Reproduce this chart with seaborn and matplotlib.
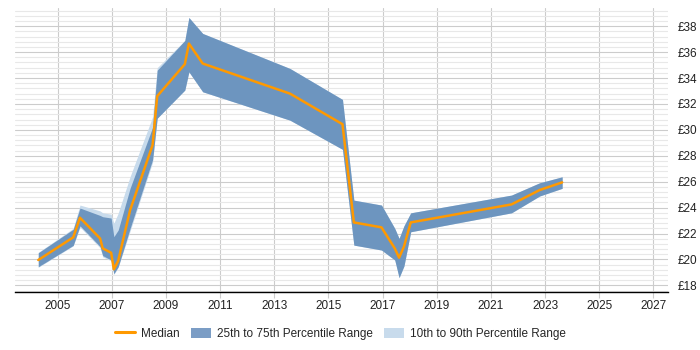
import matplotlib
matplotlib.use("Agg")
import matplotlib.pyplot as plt
from matplotlib.ticker import MultipleLocator, FuncFormatter
from matplotlib.patches import Patch
from matplotlib.lines import Line2D
import seaborn as sns
import pandas as pd

years = [2004.29, 2005.58, 2005.83, 2006.57, 2006.67, 2006.98, 2007.08, 2007.24,
         2007.68, 2008.51, 2008.68, 2009.70, 2009.85, 2010.36, 2013.58, 2015.52,
         2015.94, 2016.96, 2017.45, 2017.61, 2017.79, 2018.04, 2021.76, 2022.80, 2023.63]
median = [19.96, 21.71, 23.22, 21.63, 20.86, 20.52, 19.24, 19.90,
          23.81, 28.83, 32.60, 35.07, 36.66, 35.12, 32.80, 30.44,
          22.86, 22.48, 20.86, 20.14, 21.00, 22.86, 24.25, 25.36, 25.95]
p25 = [19.44, 21.09, 22.60, 21.00, 20.30, 19.96, 18.90, 19.44,
       22.40, 27.70, 30.90, 33.07, 34.48, 32.94, 30.75, 28.50,
       21.11, 20.73, 19.96, 18.60, 19.50, 22.14, 23.60, 24.90, 25.49]
p75 = [20.52, 22.33, 23.97, 23.40, 23.30, 23.20, 21.76, 22.27,
       25.50, 30.20, 34.60, 36.90, 38.67, 37.44, 34.74, 32.35,
       24.58, 24.20, 22.40, 21.63, 22.60, 23.60, 24.97, 25.92, 26.38]
p10 = [19.40, 21.05, 22.50, 20.90, 20.20, 19.90, 18.85, 19.40,
       22.20, 27.50, 30.90, 33.07, 34.48, 32.94, 30.75, 28.50,
       21.11, 20.73, 19.96, 18.60, 19.50, 22.14, 23.60, 24.90, 25.49]
p90 = [20.55, 22.40, 24.20, 23.75, 23.60, 23.50, 22.80, 23.58,
       26.40, 31.00, 34.80, 36.90, 38.67, 37.44, 34.74, 32.35,
       24.58, 24.20, 22.40, 21.63, 22.60, 23.60, 24.97, 25.92, 26.38]

x_ticks = list(range(2005, 2028, 2))
y_ticks = list(range(18, 39, 2))

df = pd.DataFrame({"year": years, "median": median, "p25": p25, "p75": p75,
                   "p10": p10, "p90": p90})

sns.set_style("white")
plt.rcParams["font.family"] = ["Liberation Sans", "DejaVu Sans"]

fig = plt.figure(figsize=(7, 3.5), dpi=100)
ax = fig.add_axes([0.0214, 0.166, 0.9326, 0.811])

light = "#c8dbec"
dark = "#6d95bf"
orange = "#ff9900"

ax.fill_between(df["year"], df["p10"], df["p90"], color=light, linewidth=0, zorder=2)
ax.fill_between(df["year"], df["p25"], df["p75"], color=dark, linewidth=0, zorder=3)
sns.lineplot(data=df, x="year", y="median", ax=ax, color=orange, linewidth=1.8,
             zorder=4, sort=False, legend=False)

ax.set_xlim(2003.43, 2027.53)
ax.set_ylim(17.5, 39.4)
ax.set_xticks(x_ticks)
ax.set_yticks(y_ticks)
ax.yaxis.set_minor_locator(MultipleLocator(0.4))
ax.yaxis.tick_right()
ax.yaxis.set_major_formatter(FuncFormatter(lambda v, p: f"£{v:.0f}"))
ax.grid(True, which="major", axis="both", color="#cccccc", linewidth=0.8, zorder=0)
ax.grid(True, which="minor", axis="y", color="#e8e8e8", linewidth=0.8, zorder=0)
ax.set_axisbelow(True)
for s in ["top", "right", "left"]:
    ax.spines[s].set_visible(False)
ax.spines["bottom"].set_color("#000000")
ax.spines["bottom"].set_linewidth(1.0)
ax.tick_params(axis="x", which="major", length=4, color="#cccccc", labelsize=8.5,
               labelcolor="#222222", pad=2, bottom=True)
ax.tick_params(axis="y", which="both", length=0, labelsize=8.5, labelcolor="#222222", pad=7)
ax.set_xlabel("")
ax.set_ylabel("")

handles = [Line2D([0], [0], color=orange, linewidth=2.2),
           Patch(facecolor="#7b9dc5", edgecolor="none"),
           Patch(facecolor=light, edgecolor="none")]
labels = ["Median", "25th to 75th Percentile Range", "10th to 90th Percentile Range"]
fig.legend(handles, labels, loc="center", bbox_to_anchor=(0.486, 0.046), ncol=3,
           frameon=False, fontsize=8.5, handlelength=1.7, handleheight=1.0,
           columnspacing=0.95, handletextpad=0.5)

fig.savefig("out.png", dpi=100)
